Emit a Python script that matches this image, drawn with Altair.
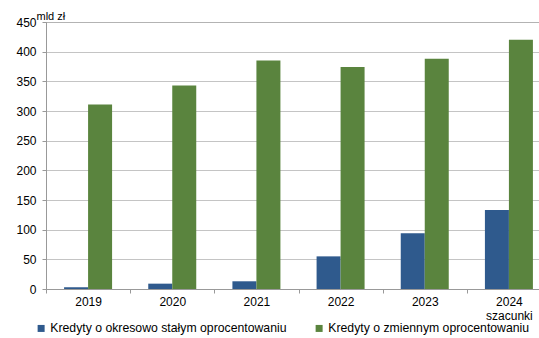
import altair as alt
import pandas as pd

# Mortgage loans by interest-rate type, PLN bn
years = ["2019", "2020", "2021", "2022", "2023", "2024"]
fixed_rate = [3, 9, 13, 55, 94, 133]
variable_rate = [311, 343, 385, 374, 388, 420]

series_fixed = "Kredyty o okresowo stałym oprocentowaniu"
series_variable = "Kredyty o zmiennym oprocentowaniu"

rows = []
for y, f, v in zip(years, fixed_rate, variable_rate):
    rows.append({"rok": y, "seria": series_fixed, "wartosc": f})
    rows.append({"rok": y, "seria": series_variable, "wartosc": v})
df = pd.DataFrame(rows)

font = "Liberation Sans"
blue = "#2F5A8D"
green = "#5A843E"

chart = (
    alt.Chart(df)
    .mark_bar()
    .encode(
        x=alt.X(
            "rok:N",
            sort=years,
            title=None,
            scale=alt.Scale(range=[0, 505], paddingInner=0, paddingOuter=0),
            axis=alt.Axis(
                labelAngle=0,
                labelFont=font,
                labelFontSize=12,
                labelColor="#000000",
                labelPadding=3,
                labelLineHeight=14,
                labelExpr="datum.value == '2024' ? ['2024', 'szacunki'] : datum.value",
                tickBand="extent",
                tickSize=4,
                tickColor="#999999",
                domainColor="#999999",
                domainWidth=1,
                grid=False,
            ),
        ),
        xOffset=alt.XOffset(
            "seria:N",
            sort=[series_fixed, series_variable],
            scale=alt.Scale(paddingInner=0, paddingOuter=0.7535),
        ),
        y=alt.Y(
            "wartosc:Q",
            scale=alt.Scale(domain=[0, 450], nice=False),
            axis=alt.Axis(
                values=list(range(0, 451, 50)),
                title="mld zł",
                titleAngle=0,
                titleX=-10,
                titleY=-3,
                titleAlign="left",
                titleBaseline="alphabetic",
                titleFont=font,
                titleFontSize=11,
                titleFontWeight="normal",
                titleColor="#000000",
                labelFont=font,
                labelFontSize=12,
                labelColor="#000000",
                labelPadding=6,
                tickSize=4,
                tickColor="#999999",
                domainColor="#999999",
                gridColor="#888888",
                gridDash=[1, 1],
                gridWidth=1,
            ),
        ),
        color=alt.Color(
            "seria:N",
            sort=[series_fixed, series_variable],
            scale=alt.Scale(domain=[series_fixed, series_variable], range=[blue, green]),
            legend=alt.Legend(
                title=None,
                orient="none",
                direction="horizontal",
                legendX=-11,
                legendY=300,
                symbolType="square",
                symbolSize=49,
                symbolStrokeWidth=0,
                labelFont=font,
                labelFontSize=12.25,
                labelColor="#000000",
                labelOffset=3,
                labelLimit=400,
                columnPadding=26,
            ),
        ),
    )
    .properties(
        width=493,
        height=267,
        autosize=alt.AutoSizeParams(type="none"),
        padding={"left": 46, "top": 22, "right": 0, "bottom": 49},
    )
    .configure_view(stroke=None)
    .configure(background="#ffffff")
)

chart.save("out.html", embed_options={"renderer": "svg", "actions": False})
